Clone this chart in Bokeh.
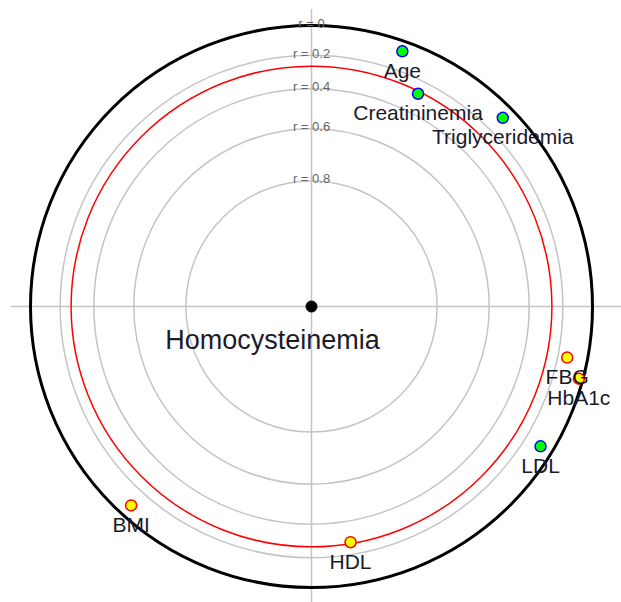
import numpy as np
from bokeh.plotting import figure
from bokeh.models import ColumnDataSource
from bokeh.core.properties import value
from bokeh.embed import file_html
from bokeh.resources import INLINE

# ---- data ----
variables = ["Age", "Creatininemia", "Triglyceridemia", "FBG", "HbA1c", "LDL", "BMI", "HDL"]
correlations = [0.071, 0.283, 0.086, -0.139, -0.029, 0.088, -0.087, -0.277]
angles_deg = [19.6, 26.6, 45.4, 101.3, 105.1, 121.4, 222.2, 170.6]
ref_levels = [0.2, 0.4, 0.6, 0.8]
ref_labels = ["r = 0.2", "r = 0.4", "r = 0.6", "r = 0.8"]
r_critical = 0.268
outcome = "Homocysteinemia"

# distance from centre encodes correlation: d = sqrt(1 - |r|)
def dist(r):
    return np.sqrt(1 - np.abs(np.asarray(r, dtype=float)))

W, H = 621, 602
S = 281.0  # pixels per data unit
cx, cy = 311.0, 306.0
p = figure(width=W, height=H, output_backend="svg", toolbar_location=None,
           x_range=(-cx / S, (W - cx) / S), y_range=((cy - H) / S, cy / S),
           min_border=0)
p.axis.visible = False
p.grid.visible = False
p.outline_line_color = None
p.background_fill_color = "white"

gray = "#C4C4C4"
# cross lines
p.line([-1.07, 1.2], [0, 0], line_color=gray, line_width=1.5)
p.line([0, 0], [-1.1, 1.06], line_color=gray, line_width=1.5)

# reference circles
p.circle(x=[0] * len(ref_levels), y=[0] * len(ref_levels), radius=list(dist(ref_levels)),
         fill_color=None, line_color=gray, line_width=1.5)
p.circle(x=[0], y=[0], radius=[float(dist(r_critical))], fill_color=None,
         line_color="#FF0000", line_width=1.5)
p.circle(x=[0], y=[0], radius=[1.0], fill_color=None, line_color="black", line_width=3)

# reference labels
p.text(x=[0] * (len(ref_levels) + 1), y=[1.0] + list(dist(ref_levels)),
       text=["r = 0"] + ref_labels, text_align="center", text_baseline="alphabetic",
       y_offset=-2, text_font=value("Liberation Sans"), text_font_size="13px",
       text_color="#666666")

# points
d = dist(correlations)
th = np.radians(angles_deg)
xs = d * np.sin(th)
ys = d * np.cos(th)
fill = ["#00FF00" if c > 0 else "#FFFF00" for c in correlations]
edge = ["#0000FF" if c > 0 else "#FF0000" for c in correlations]
src = ColumnDataSource(dict(x=xs, y=ys, name=variables, fill=fill, edge=edge))
p.scatter("x", "y", source=src, size=11, fill_color="fill", line_color="edge", line_width=1.5)
p.text("x", "y", text="name", source=src, text_align="center", text_baseline="alphabetic",
       y_offset=19, text_font=value("Liberation Sans"), text_font_size="21px",
       text_color="#1a1a2a")

# centre
p.scatter([0], [0], size=11, fill_color="black", line_color="black")
p.text([0], [0], text=[outcome], text_align="center", text_baseline="alphabetic",
       x_offset=-39, y_offset=33, text_font=value("Liberation Sans"),
       text_font_size="27px", text_color="#1a1a2a")

open("out.html", "w").write(file_html(p, INLINE))
